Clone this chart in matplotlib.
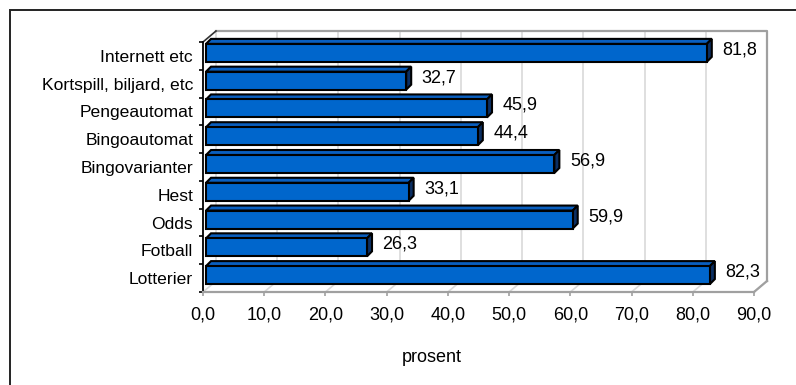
import numpy as np
import matplotlib.pyplot as plt
from matplotlib.patches import Polygon, Rectangle
from matplotlib.lines import Line2D

plt.rcParams['font.family'] = ['Liberation Sans', 'DejaVu Sans']

# data (bottom to top)
categories = ['Lotterier', 'Fotball', 'Odds', 'Hest', 'Bingovarianter',
              'Bingoautomat', 'Pengeautomat', 'Kortspill, biljard, etc',
              'Internett etc']
values = [82.3, 26.3, 59.9, 33.1, 56.9, 44.4, 45.9, 32.7, 81.8]
xticks = [0, 10, 20, 30, 40, 50, 60, 70, 80, 90]
xlabel = 'prosent'

W, H = 796, 385
fig = plt.figure(figsize=(W / 100, H / 100), dpi=100)

# outer chart border
fig.patches.append(Rectangle((10 / W, -0.1), 1.2, 1 - 10 / H + 0.1,
                             transform=fig.transFigure, fill=False,
                             edgecolor='#222222', linewidth=1.4))

# front plane of the 3d box, in pixels
left, right, top, bottom = 203, 754, 42, 292
ax = fig.add_axes([left / W, 1 - bottom / H, (right - left) / W, (bottom - top) / H])
ax.set_xlim(0, 90)
ax.set_ylim(-0.5, len(categories) - 0.5)
ax.patch.set_visible(False)

# pixel -> data unit conversion
px_x = 90 / (right - left)
px_y = len(categories) / (bottom - top)

depth = (13 * px_x, 11 * px_y)        # box depth
y0, y1 = -0.5, len(categories) - 0.5

grid_c = '#d9d9d9'
edge_c = '#a0a0a0'

# back wall gridlines
for x in xticks:
    ax.add_line(Line2D([x + depth[0]] * 2, [y0 + depth[1], y1 + depth[1]],
                       color=grid_c, lw=1.2, clip_on=False, zorder=0))
# floor gridlines
for x in xticks:
    ax.add_line(Line2D([x, x + depth[0]], [y0, y0 + depth[1]],
                       color=grid_c, lw=1.2, clip_on=False, zorder=0))
# back wall outline (top and right)
ax.add_line(Line2D([depth[0], 90 + depth[0], 90 + depth[0]],
                   [y1 + depth[1], y1 + depth[1], y0 + depth[1]],
                   color=edge_c, lw=1.6, clip_on=False, zorder=1))
# floor right edge
ax.add_line(Line2D([90, 90 + depth[0]], [y0, y0 + depth[1]],
                   color=edge_c, lw=1.6, clip_on=False, zorder=1))
# left wall top edge
ax.add_line(Line2D([0, depth[0]], [y1, y1 + depth[1]],
                   color='#333333', lw=1.2, clip_on=False, zorder=1))

# bars
bar_h = 18 * px_y
f_off = (3 * px_x, 3 * px_y)
b_off = (8 * px_x, 8 * px_y)
front_c = '#0066cc'
top_c = '#0a5fbf'
end_c = '#0b2f63'
lw = 1.5
for i, v in enumerate(values):
    yb = i - bar_h / 2 + f_off[1]
    yt = i + bar_h / 2 + f_off[1]
    dy = b_off[1] - f_off[1]
    topf = [(f_off[0], yt), (v + f_off[0], yt), (v + b_off[0], yt + dy),
            (b_off[0], yt + dy)]
    endf = [(v + f_off[0], yb), (v + b_off[0], yb + dy),
            (v + b_off[0], yt + dy), (v + f_off[0], yt)]
    ax.add_patch(Polygon(topf, closed=True, facecolor=top_c, edgecolor='black',
                         lw=lw, clip_on=False, zorder=3))
    ax.add_patch(Polygon(endf, closed=True, facecolor=end_c, edgecolor='black',
                         lw=lw, clip_on=False, zorder=3))
    ax.add_patch(Rectangle((f_off[0], yb), v, bar_h, facecolor=front_c,
                           edgecolor='black', lw=lw, clip_on=False, zorder=4))
    ax.annotate(f'{v:.1f}'.replace('.', ','), (v, i), xytext=(13.3, 4.3),
                textcoords='offset points', ha='left', va='center',
                fontsize=13, color='black')

# axes styling
for s in ['top', 'right']:
    ax.spines[s].set_visible(False)
ax.spines['left'].set_color('black')
ax.spines['left'].set_linewidth(1.3)
ax.spines['bottom'].set_color(edge_c)
ax.spines['bottom'].set_linewidth(1.6)

ax.set_yticks(range(len(categories)))
ax.set_yticklabels(categories, fontsize=12.6, color='black')
ax.set_yticks(np.arange(-0.5, len(categories), 1), minor=True)
ax.tick_params(axis='y', which='major', length=0, pad=7.2)
ax.tick_params(axis='y', which='minor', length=3, width=1.2, color='black')

ax.set_xticks(xticks)
ax.set_xticklabels([f'{x:.1f}'.replace('.', ',') for x in xticks], fontsize=13,
                   color='black')
ax.tick_params(axis='x', length=3, width=1.2, color=edge_c, pad=7.5)

fig.text(432 / W, 1 - 357 / H, xlabel, ha='center', va='center', fontsize=13)

fig.savefig('out.png', dpi=100, facecolor='white')
